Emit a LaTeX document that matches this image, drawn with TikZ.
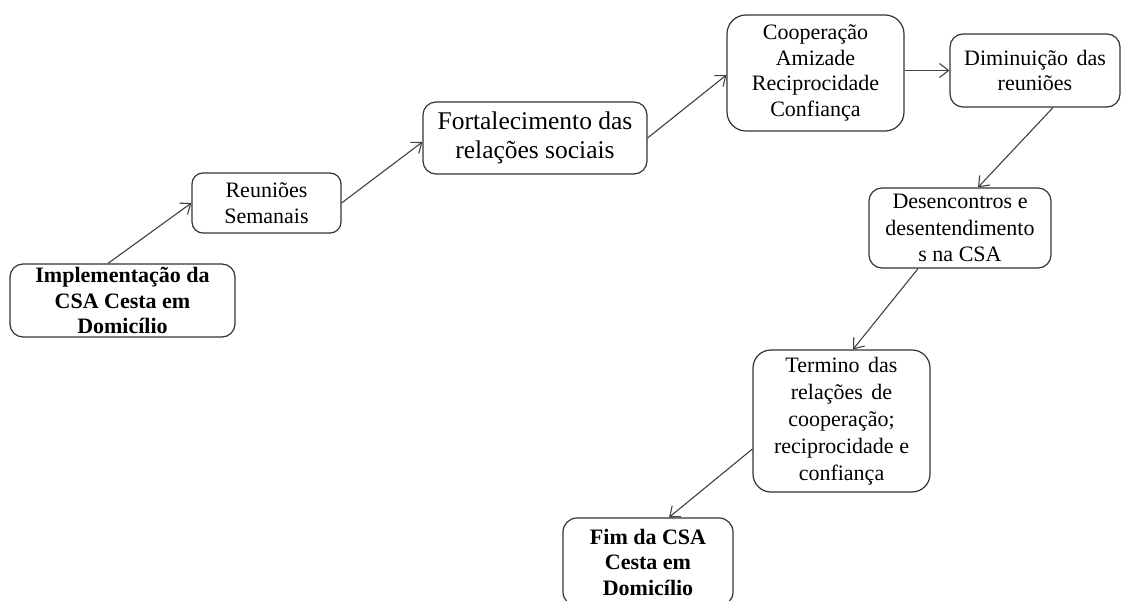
\documentclass[tikz,border=0pt]{standalone}
\usepackage{fontspec}
\setmainfont{Liberation Serif}
\usetikzlibrary{arrows.meta,calc}
\begin{document}
\begin{tikzpicture}[x=1pt,y=-1pt,
  box/.style={draw=black!80, line width=1.2pt, align=center, inner sep=0pt,
    font=\fontsize{22}{25.5}\selectfont},
  bbox/.style={box, font=\fontsize{22}{25.5}\selectfont\bfseries},
  conn/.style={draw=black!75, line width=1.1pt,
    -{Straight Barb[length=9pt,width=14pt,line width=1.1pt]}}]
\useasboundingbox (0,0) rectangle (1121,601);
\clip (0,0) rectangle (1121,601);
\node[bbox, minimum width=225pt, minimum height=73pt, rounded corners=13pt] (impl) at (122.5,300.5) {Implementação da\\CSA Cesta em\\Domicílio};
\node[box, minimum width=149pt, minimum height=60pt, rounded corners=11pt] (reun) at (266.5,203) {Reuniões\\Semanais};
\node[box, minimum width=224pt, minimum height=72pt, rounded corners=13pt, font=\fontsize{25.5}{29}\selectfont] (fort) at (535,138) {Fortalecimento das\\relações sociais};
\node[box, minimum width=177pt, minimum height=116pt, rounded corners=19pt] (coop) at (815.5,73) {Cooperação\\Amizade\\Reciprocidade\\Confiança};
\node[box, minimum width=170pt, minimum height=73pt, rounded corners=13pt] (dimi) at (1035,70.5) {Diminuição\hspace{3pt} das\\reuniões};
\node[box, minimum width=182pt, minimum height=80pt, rounded corners=13pt, font=\fontsize{22}{26.5}\selectfont] (dese) at (960,228) {Desencontros e\\desentendimento\\s na CSA};
\node[box, minimum width=177pt, minimum height=142pt, rounded corners=18pt, font=\fontsize{22}{27}\selectfont] (term) at (841.5,421) {Termino\hspace{3pt} das\\relações\hspace{3pt} de\\cooperação;\\reciprocidade e\\confiança};
\node[bbox, minimum width=170pt, minimum height=88pt, rounded corners=14pt] (fim) at (648,562) {Fim da CSA\\Cesta em\\Domicílio};
\draw[conn] ($(impl.north)+(-14.5,0)$) -- (reun.west);
\draw[conn] (reun.east) -- ($(fort.west)+(0,4)$);
\draw[conn] (fort.east) -- ($(coop.west)+(0,2)$);
\draw[conn] (dimi.west -| coop.east) -- (dimi.west);
\draw[conn] ($(dimi.south)+(18,0)$) -- ($(dese.north)+(18,0)$);
\draw[conn] ($(dese.south)+(-42,0)$) -- ($(term.north)+(11.5,0)$);
\draw[conn] ($(term.west)+(0,28)$) -- ($(fim.north)+(21,0)$);
\end{tikzpicture}
\end{document}
